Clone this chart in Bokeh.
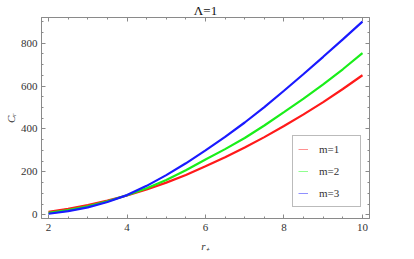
from bokeh.plotting import figure
from bokeh.models import (Range1d, LinearAxis, SingleIntervalTicker, Legend, LegendItem,
                          CustomJSTickFormatter)
from bokeh.embed import file_html
from bokeh.resources import INLINE

r_plus = [2, 2.5, 3, 3.5, 4, 4.5, 5, 5.5, 6, 6.5, 7, 7.5, 8, 8.5, 9, 9.5, 10]
c_m1 = [14, 28, 46, 66, 90, 118, 150, 186, 226, 268, 314, 362, 414, 468, 525, 586, 650]
c_m2 = [9, 22, 40, 63, 91, 124, 162, 208, 258, 306, 358, 416, 478, 541, 608, 678, 753]
c_m3 = [5, 17, 35, 60, 92, 135, 185, 240, 300, 363, 430, 502, 578, 656, 736, 817, 900]
series_labels = ["m=1", "m=2", "m=3"]
title_text = "\u039b=1"

line_colors = ["#ff1a1a", "#1aee1a", "#1a1aff"]
legend_colors = ["#ff9090", "#90ff90", "#9090ff"]

p = figure(width=400, height=255, output_backend="svg", toolbar_location=None,
           x_range=Range1d(1.82, 10.18), y_range=Range1d(-17, 919),
           min_border_left=41, min_border_right=31, min_border_top=0, min_border_bottom=37,
           x_axis_type=None, y_axis_type=None, title=title_text)
p.background_fill_color = "white"
p.border_fill_color = "white"
p.grid.visible = False
p.outline_line_color = "#8a8a8a"
p.outline_line_width = 1
p.title.align = "center"
p.title.text_font = "Liberation Serif"
p.title.text_font_size = "13px"
p.title.text_font_style = "normal"
p.title.text_color = "#111111"
p.title.standoff = 0
p.title.offset = 0

xt = SingleIntervalTicker(interval=2, num_minor_ticks=4)
yt = SingleIntervalTicker(interval=200, num_minor_ticks=4)

def style(ax, show_labels):
    ax.axis_line_color = "#8a8a8a"
    ax.major_tick_line_color = "#8a8a8a"
    ax.minor_tick_line_color = "#8a8a8a"
    ax.major_tick_in = 4
    ax.major_tick_out = 0
    ax.minor_tick_in = 2
    ax.minor_tick_out = 0
    ax.major_label_text_font = "Liberation Serif"
    ax.major_label_text_color = "#333333"
    ax.axis_label_text_font = "Liberation Serif"
    ax.axis_label_text_font_style = "italic"
    ax.axis_label_text_color = "#333333"
    ax.axis_label_text_font_size = "11px"
    ax.major_label_text_font_size = "11px"
    if show_labels:
        ax.major_label_standoff = 5
    else:
        ax.formatter = CustomJSTickFormatter(code="return ''")
        ax.major_label_standoff = 0

xb = LinearAxis(ticker=xt, axis_label="r\u208a")
style(xb, True)
xb.axis_label_standoff = 6
p.add_layout(xb, "below")
yl = LinearAxis(ticker=yt, axis_label="C\u1d63")
style(yl, True)
yl.major_label_standoff = 4
yl.axis_label_standoff = 1
p.add_layout(yl, "left")
xa = LinearAxis(ticker=xt)
style(xa, False)
p.add_layout(xa, "above")
yr = LinearAxis(ticker=yt)
style(yr, False)
p.add_layout(yr, "right")

items = []
pale = []
for ys, pc in zip([c_m1, c_m2, c_m3], legend_colors):
    pale.append(p.line(r_plus, ys, line_color=pc, line_width=1))
for ys, lc in zip([c_m1, c_m2, c_m3], line_colors):
    p.line(r_plus, ys, line_color=lc, line_width=2.2)
for rend, lab in zip(pale, series_labels):
    items.append(LegendItem(label=lab, renderers=[rend]))

legend = Legend(items=items, location=(251, 11))
legend.border_line_color = "#777777"
legend.border_line_width = 1
legend.background_fill_color = "white"
legend.background_fill_alpha = 1
legend.label_text_font = "Liberation Serif"
legend.label_text_font_size = "11px"
legend.label_text_color = "#333333"
legend.glyph_width = 10
legend.glyph_height = 16
legend.label_height = 16
legend.label_width = 36
legend.label_standoff = 11
legend.spacing = 6
legend.padding = 5
legend.margin = 0
p.add_layout(legend, "center")

open("out.html", "w").write(file_html(p, INLINE))
